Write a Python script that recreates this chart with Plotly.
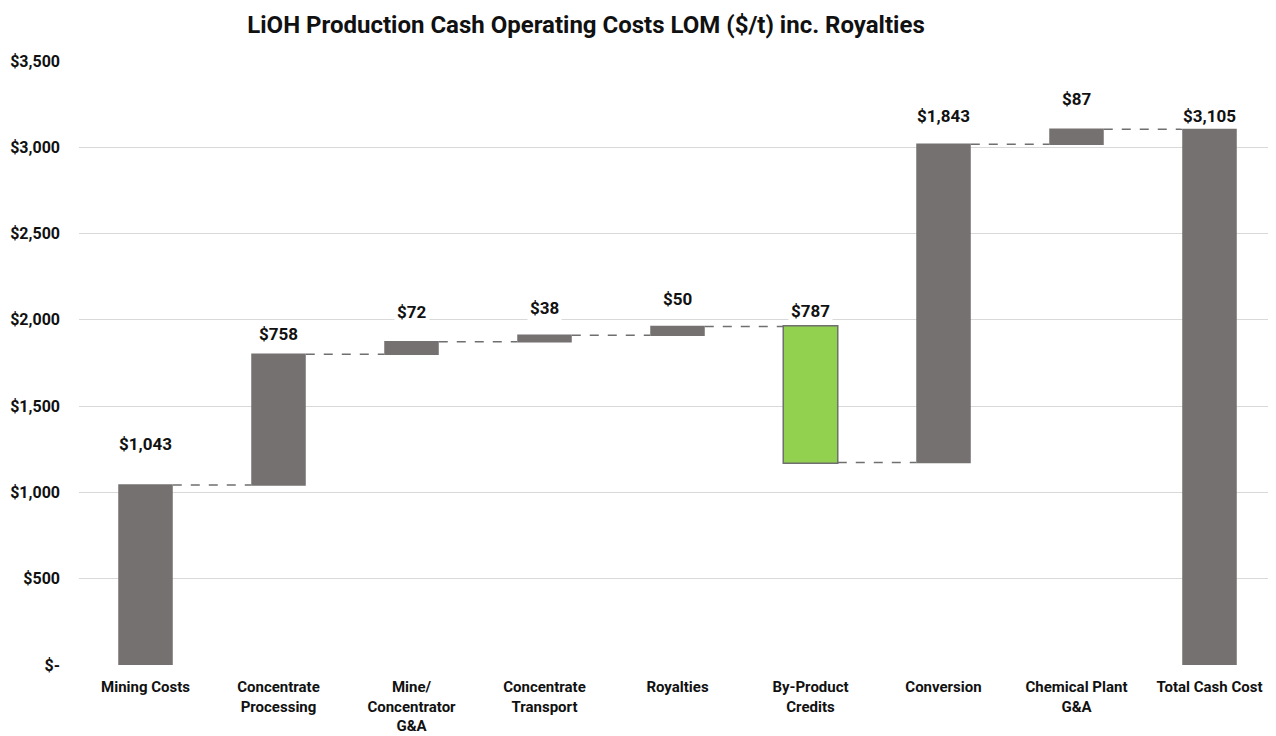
import plotly.graph_objects as go

categories = ["Mining Costs", "Concentrate<br>Processing", "Mine/<br>Concentrator<br>G&A",
              "Concentrate<br>Transport", "Royalties", "By-Product<br>Credits", "Conversion",
              "Chemical Plant<br>G&A", "Total Cash Cost"]
values = [1043, 758, 72, 38, 50, -787, 1843, 87, 3105]
measures = ["absolute", "relative", "relative", "relative", "relative", "relative",
            "relative", "relative", "absolute"]
labels = ["$1,043", "$758", "$72", "$38", "$50", "$787", "$1,843", "$87", "$3,105"]
tick_vals = [0, 500, 1000, 1500, 2000, 2500, 3000, 3500]
tick_text = ["$-", "$500", "$1,000", "$1,500", "$2,000", "$2,500", "$3,000", "$3,500"]

# label offsets above bar top (pixels) - styling only
label_shift = [41, 20, 30, 27, 28, 16, 28, 30, 13]

GREY = "#757170"
FONT = "Roboto"

# compute bar tops from the data
tops = []
level = 0
for v, m in zip(values, measures):
    if m == "absolute":
        start, end = 0, v
    else:
        start, end = level, level + v
    level = end
    tops.append(max(start, end))

fig = go.Figure(go.Waterfall(
    x=categories, y=values, measure=measures,
    increasing=dict(marker=dict(color=GREY, line=dict(color=GREY, width=0))),
    decreasing=dict(marker=dict(color="#92D050", line=dict(color="#6f6f6f", width=1.5))),
    totals=dict(marker=dict(color=GREY, line=dict(color=GREY, width=0))),
    connector=dict(mode="between", line=dict(color="#6f6f6f", width=1.5, dash="dash")),
    textinfo="none", hoverinfo="skip",
))

for c, t, lab, s in zip(categories, tops, labels, label_shift):
    fig.add_annotation(x=c, y=t, text=lab, showarrow=False, yanchor="middle", yshift=s,
                       bgcolor="white", borderpad=2,
                       font=dict(family=FONT, size=17, color="#111", weight="bold"))

fig.update_layout(
    width=1268, height=728,
    margin=dict(l=71, r=0, t=53, b=71, autoexpand=False),
    paper_bgcolor="white", plot_bgcolor="white",
    waterfallgap=0.59,
    showlegend=False,
    title=dict(text="LiOH Production Cash Operating Costs LOM ($/t) inc. Royalties",
               x=578/1268, xanchor="center", y=1 - 17/728, yanchor="middle",
               font=dict(family=FONT, size=24, color="#111", weight="bold")),
    yaxis=dict(range=[0, 3500], tickvals=tick_vals, ticktext=tick_text, automargin=False,
               showgrid=True, gridcolor="#d9d9d9", gridwidth=1.3, zeroline=False,
               ticklabelstandoff=18, showline=False,
               tickfont=dict(family=FONT, size=16, color="#111", weight="bold")),
    xaxis=dict(showgrid=False, showline=False, ticks="", ticklabelstandoff=11, automargin=False,
               tickfont=dict(family=FONT, size=15, color="#111", weight="bold")),
)

fig.write_html("out.html")
